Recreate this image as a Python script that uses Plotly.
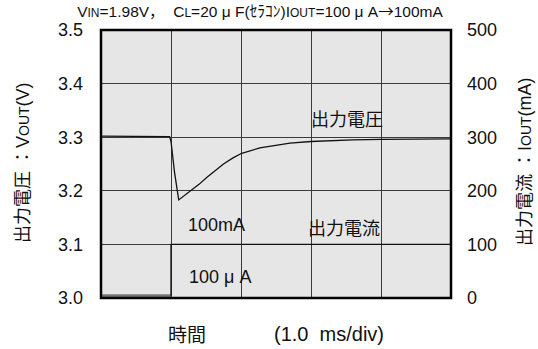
import plotly.graph_objects as go

# time axis (ms), 1.0 ms/div
time_ms = [0, 0.5, 0.98, 1.0, 1.05, 1.11, 1.18, 1.27, 1.4, 1.51, 1.63, 1.75, 1.88, 2.01,
           2.27, 2.5, 2.7, 3.0, 3.3, 3.6, 4.0, 4.5, 5.0]
vout = [3.302, 3.302, 3.301, 3.292, 3.235, 3.183, 3.190, 3.198, 3.212, 3.225, 3.238, 3.250,
        3.261, 3.270, 3.280, 3.285, 3.289, 3.292, 3.294, 3.295, 3.296, 3.297, 3.297]

# output current (mA)
time_lo = [0, 1.0]
iout_lo = [4, 4]
time_hi = [1.0, 1.0, 5.0]
iout_hi = [4, 100, 100]

v_ticks = [3.0, 3.1, 3.2, 3.3, 3.4, 3.5]
i_ticks = [0, 100, 200, 300, 400, 500]

FONT = "Liberation Sans, Arial, Noto Sans CJK JP, sans-serif"
CJK = "Noto Sans CJK JP"
MU = "μ"
ARROW = "<span style=\"font-family:'Noto Sans CJK JP'\">→</span>"

W, H = 538, 349
# plot area in pixels
L, R, T, B = 101, 451, 30, 298

def px(x):
    return (x - L) / (R - L)

def py(y):
    return (B - y) / (B - T)

fig = go.Figure()
fig.add_trace(go.Scatter(x=time_lo, y=iout_lo, yaxis="y2", mode="lines",
                         line=dict(color="#777777", width=3), showlegend=False))
fig.add_trace(go.Scatter(x=time_hi, y=iout_hi, yaxis="y2", mode="lines",
                         line=dict(color="#111111", width=1.3), showlegend=False))
fig.add_trace(go.Scatter(x=time_ms, y=vout, mode="lines",
                         line=dict(color="#111111", width=1.3), showlegend=False))

small = "<span style='font-size:12px'>{}</span>"
title = ("V" + small.format("IN") + "=1.98V，  C" + small.format("L") + "=20 " + MU +
         " F(ｾﾗｺﾝ)I" + small.format("OUT") + "=100 " + MU + " A" + ARROW + "100mA")

annotations = [
    dict(text="出力電圧", x=px(347), y=py(117.5), font=dict(size=18, family=CJK)),
    dict(text="出力電流", x=px(343.5), y=py(227), font=dict(size=18, family=CJK)),
    dict(text="100mA", x=px(216), y=py(225), font=dict(size=18)),
    dict(text="100 " + MU + " A", x=px(219.5), y=py(276.5), font=dict(size=18)),
    dict(text="時間", x=px(187), y=py(333), font=dict(size=19, family=CJK)),
    dict(text="(1.0  ms/div)", x=px(328.5), y=py(334), font=dict(size=20)),
    dict(text="出力電圧 ：V<span style='font-size:14px'>OUT</span>(V)", x=px(23), y=py(163),
         textangle=-90, font=dict(size=18)),
    dict(text="出力電流 ：I<span style='font-size:14px'>OUT</span>(mA)", x=px(525), y=py(162),
         textangle=-90, font=dict(size=18)),
]
for a in annotations:
    a.update(xref="paper", yref="paper", showarrow=False, xanchor="center", yanchor="middle")
    a["font"].setdefault("family", FONT)
    a["font"]["color"] = "#111111"

fig.update_layout(
    width=W, height=H,
    margin=dict(l=L, r=W - R, t=T, b=H - B),
    paper_bgcolor="white", plot_bgcolor="#e6e6e6",
    font=dict(family=FONT, color="#111111", size=18),
    title=dict(text=title, x=260 / W, xanchor="center", y=1 - 12 / H,
               yanchor="middle", font=dict(size=15.5, family=FONT, color="#111111")),
    xaxis=dict(range=[0, 5], dtick=1, showticklabels=False, showgrid=True,
               gridcolor="#3a3a3a", gridwidth=1.3, zeroline=False, showline=False, fixedrange=True),
    yaxis=dict(range=[3.0, 3.5], tickvals=v_ticks, ticktext=[f"{v:.1f}" for v in v_ticks],
               showgrid=True, gridcolor="#3a3a3a", gridwidth=1.3, zeroline=False,
               ticks="", ticklabelstandoff=17, tickfont=dict(size=18)),
    yaxis2=dict(range=[0, 500], tickvals=i_ticks, overlaying="y", side="right",
                showgrid=False, zeroline=False, ticks="", ticklabelstandoff=15,
                tickfont=dict(size=18)),
    annotations=annotations,
    shapes=[dict(type="rect", xref="paper", yref="paper", x0=0, x1=1, y0=0, y1=1,
                 line=dict(color="black", width=2.5), layer="above")],
)

fig.write_html("out.html", config={"displayModeBar": False},
               post_script="document.body.style.margin='0';document.body.style.overflow='hidden';")
